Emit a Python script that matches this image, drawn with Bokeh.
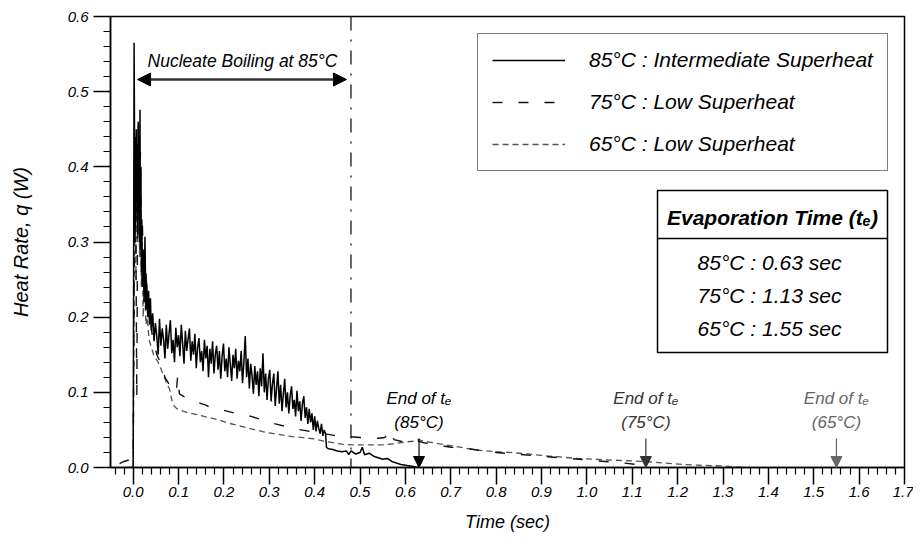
from bokeh.plotting import figure
from bokeh.models import (FixedTicker, PrintfTickFormatter, Legend, LegendItem, Span,
                          Arrow, NormalHead, Label, BoxAnnotation)
from bokeh.embed import file_html
from bokeh.resources import INLINE

# ---------------- data ----------------
t85 = [-0.010, 0.000, 0.002, 0.004, 0.005, 0.006, 0.007, 0.008, 0.009, 0.010, 0.011, 0.012,
       0.013, 0.014, 0.015, 0.016, 0.017, 0.018, 0.019, 0.020, 0.022, 0.024, 0.026, 0.028,
       0.030, 0.032, 0.034, 0.036, 0.038,
       0.040, 0.043, 0.046, 0.049, 0.052, 0.055, 0.058, 0.061, 0.064, 0.067,
       0.070, 0.073, 0.076, 0.079, 0.082, 0.085, 0.088, 0.091, 0.094, 0.097,
       0.100, 0.103, 0.106, 0.109, 0.112, 0.115, 0.118, 0.121, 0.124, 0.127,
       0.130, 0.133, 0.136, 0.139, 0.142, 0.145, 0.148, 0.151, 0.154, 0.157,
       0.160, 0.163, 0.166, 0.169, 0.172, 0.175, 0.178, 0.181, 0.184, 0.187,
       0.190, 0.193, 0.196, 0.199, 0.202, 0.205, 0.208, 0.211, 0.214, 0.217,
       0.220, 0.223, 0.226, 0.229, 0.232, 0.235, 0.238, 0.241, 0.244, 0.247,
       0.250, 0.253, 0.256, 0.259, 0.262, 0.265, 0.268, 0.271, 0.274, 0.277,
       0.280, 0.283, 0.286, 0.289, 0.292, 0.295, 0.298, 0.301, 0.304, 0.307,
       0.310, 0.313, 0.316, 0.319, 0.322, 0.325, 0.328, 0.331, 0.334, 0.337,
       0.340, 0.343, 0.346, 0.349, 0.352, 0.355, 0.358, 0.361, 0.364, 0.367,
       0.370, 0.373, 0.376, 0.379, 0.382, 0.385, 0.388, 0.391, 0.394, 0.397,
       0.400, 0.403, 0.406, 0.409, 0.412, 0.415, 0.418, 0.421,
       0.424, 0.426, 0.430, 0.440, 0.450, 0.460, 0.470, 0.475, 0.480, 0.490, 0.500, 0.505,
       0.510, 0.520, 0.530, 0.540, 0.550, 0.560, 0.570, 0.580, 0.590, 0.600, 0.610, 0.620,
       0.630]
q85 = [0.000, 0.000, 0.565, 0.300, 0.440, 0.330, 0.450, 0.360, 0.430, 0.310, 0.460, 0.340,
       0.440, 0.300, 0.476, 0.290, 0.400, 0.260, 0.330, 0.240, 0.290, 0.220, 0.307, 0.210,
       0.245, 0.200, 0.235, 0.190, 0.225,
       0.182, 0.205, 0.168, 0.192, 0.175, 0.150, 0.198, 0.162, 0.185, 0.170,
       0.145, 0.190, 0.158, 0.178, 0.196, 0.152, 0.170, 0.140, 0.186, 0.160,
       0.176, 0.148, 0.190, 0.165, 0.138, 0.182, 0.155, 0.171, 0.185, 0.142,
       0.168, 0.150, 0.178, 0.132, 0.160, 0.172, 0.140, 0.155, 0.128, 0.170,
       0.145, 0.162, 0.120, 0.158, 0.138, 0.168, 0.125, 0.150, 0.162, 0.130,
       0.155, 0.118, 0.148, 0.165, 0.128, 0.145, 0.120, 0.160, 0.138, 0.115,
       0.150, 0.132, 0.158, 0.118, 0.142, 0.128, 0.155, 0.112, 0.140, 0.175,
       0.120, 0.145, 0.105, 0.138, 0.122, 0.098, 0.135, 0.110, 0.128, 0.095,
       0.132, 0.108, 0.152, 0.100, 0.125, 0.090, 0.118, 0.130, 0.088, 0.112,
       0.125, 0.082, 0.105, 0.128, 0.085, 0.110, 0.075, 0.098, 0.118, 0.080,
       0.100, 0.072, 0.095, 0.108, 0.078, 0.090, 0.068, 0.102, 0.075, 0.088,
       0.062, 0.085, 0.095, 0.066, 0.080, 0.058, 0.078, 0.060, 0.072, 0.050,
       0.068, 0.048, 0.062, 0.052, 0.045, 0.058, 0.042, 0.050,
       0.045, 0.027, 0.025, 0.024, 0.022, 0.021, 0.022, 0.017, 0.022, 0.018, 0.020, 0.027,
       0.017, 0.019, 0.015, 0.013, 0.011, 0.012, 0.008, 0.006, 0.004, 0.003, 0.002, 0.001,
       0.000]

t75 = [-0.030, -0.020, -0.010, -0.004, 0.000, 0.002, 0.004, 0.006, 0.008, 0.010, 0.012,
       0.014, 0.016, 0.018, 0.020, 0.023, 0.026, 0.030, 0.034, 0.038, 0.042, 0.047, 0.052,
       0.056, 0.060, 0.065, 0.070, 0.075, 0.080, 0.085, 0.090, 0.095, 0.098, 0.102, 0.110,
       0.120, 0.130, 0.140, 0.150, 0.160, 0.170, 0.180, 0.190, 0.200, 0.220, 0.240, 0.260,
       0.280, 0.300, 0.320, 0.340, 0.360, 0.380, 0.400, 0.420, 0.440, 0.460, 0.480, 0.500,
       0.520, 0.540, 0.555, 0.565, 0.575, 0.590, 0.600, 0.620, 0.640, 0.660, 0.680, 0.700,
       0.720, 0.740, 0.760, 0.780, 0.800, 0.840, 0.880, 0.920, 0.960, 1.000, 1.040, 1.080,
       1.110, 1.130]
q75 = [0.005, 0.008, 0.010, 0.012, 0.010, 0.250, 0.420, 0.300, 0.093, 0.380, 0.467,
       0.330, 0.420, 0.280, 0.330, 0.260, 0.280, 0.240, 0.220, 0.200, 0.175, 0.165, 0.150,
       0.145, 0.140, 0.130, 0.120, 0.115, 0.110, 0.105, 0.103, 0.100, 0.122, 0.098, 0.095,
       0.092, 0.089, 0.087, 0.085, 0.083, 0.080, 0.078, 0.077, 0.076, 0.073, 0.071, 0.068,
       0.064, 0.060, 0.057, 0.054, 0.051, 0.049, 0.047, 0.045, 0.043, 0.042, 0.041, 0.040,
       0.040, 0.039, 0.040, 0.050, 0.037, 0.035, 0.034, 0.036, 0.033, 0.031, 0.029, 0.027,
       0.026, 0.025, 0.023, 0.022, 0.020, 0.018, 0.016, 0.014, 0.012, 0.010, 0.008, 0.006,
       0.004, 0.000]

t65 = [-0.020, 0.000, 0.002, 0.004, 0.006, 0.008, 0.010, 0.012, 0.014, 0.016, 0.018,
       0.020, 0.022, 0.025, 0.028, 0.031, 0.035, 0.040, 0.045, 0.050, 0.055, 0.060, 0.065,
       0.070, 0.075, 0.080, 0.085, 0.090, 0.095, 0.100, 0.110, 0.120, 0.135, 0.150, 0.170,
       0.190, 0.210, 0.230, 0.250, 0.270, 0.290, 0.310, 0.330, 0.350, 0.370, 0.400, 0.420,
       0.440, 0.460, 0.480, 0.500, 0.520, 0.550, 0.580, 0.600, 0.620, 0.630, 0.640, 0.660,
       0.690, 0.720, 0.760, 0.800, 0.830, 0.870, 0.900, 0.940, 0.980, 1.020, 1.050, 1.090,
       1.130, 1.170, 1.210, 1.250, 1.300, 1.350]
q65 = [0.000, 0.000, 0.200, 0.380, 0.250, 0.420, 0.300, 0.460, 0.280, 0.400, 0.240,
       0.300, 0.200, 0.250, 0.190, 0.200, 0.170, 0.160, 0.150, 0.145, 0.140, 0.133, 0.125,
       0.118, 0.110, 0.105, 0.090, 0.082, 0.079, 0.077, 0.075, 0.073, 0.071, 0.069, 0.066,
       0.063, 0.059, 0.056, 0.053, 0.050, 0.047, 0.045, 0.043, 0.041, 0.040, 0.038, 0.035,
       0.033, 0.031, 0.030, 0.030, 0.030, 0.030, 0.032, 0.034, 0.035, 0.037, 0.035, 0.033,
       0.030, 0.027, 0.023, 0.021, 0.020, 0.018, 0.016, 0.014, 0.012, 0.011, 0.010, 0.009,
       0.008, 0.006, 0.004, 0.003, 0.002, 0.000]

series_labels = ["85°C : Intermediate Superheat", "75°C : Low Superheat", "65°C : Low Superheat"]
evap_temps = ["85°C", "75°C", "65°C"]
evap_times = [0.63, 1.13, 1.55]
nucleate_end = 0.48

x_ticks = [0.0, 0.1, 0.2, 0.3, 0.4, 0.5, 0.6, 0.7, 0.8, 0.9, 1.0, 1.1, 1.2, 1.3, 1.4, 1.5, 1.6, 1.7]
x_minor = [-0.04, -0.02] + [round(i * 0.02, 2) for i in range(1, 86) if i % 5 != 0]
y_ticks = [0.0, 0.1, 0.2, 0.3, 0.4, 0.5, 0.6]
y_minor = [round(i * 0.02, 2) for i in range(1, 30) if i % 5 != 0]

# ---------------- layout helpers (picture px -> data) ----------------
FL, FR, FT, FB = 110, 904, 16, 467
X0, X1, Y0, Y1 = -0.05, 1.7, 0.0, 0.6
W, H = 913, 543
def dx(px):
    return X0 + (px - FL) / (FR - FL) * (X1 - X0)
def dy(py):
    return Y0 + (FB - py) / (FB - FT) * (Y1 - Y0)

FONT = "Liberation Sans"
colors = ["#000000", "#111111", "#555555"]

p = figure(width=W, height=H, x_range=(X0, X1), y_range=(Y0, Y1),
           output_backend="svg", toolbar_location=None,
           min_border_left=FL, min_border_right=W - FR, min_border_top=FT,
           min_border_bottom=H - FB)
p.grid.visible = False
p.outline_line_color = "black"
p.outline_line_width = 1.5
p.background_fill_color = "white"
p.border_fill_color = "white"

for ax in (p.xaxis[0], p.yaxis[0]):
    ax.axis_line_width = 1.5
    ax.major_tick_line_width = 1.5
    ax.minor_tick_line_width = 1.2
    ax.major_tick_in = 0
    ax.major_tick_out = 17
    ax.minor_tick_in = 0
    ax.minor_tick_out = 7
    ax.major_label_text_font = FONT
    ax.major_label_text_font_style = "italic"
    ax.major_label_text_font_size = "15px"
    ax.major_label_text_color = "black"
    ax.axis_label_text_font = FONT
    ax.axis_label_text_font_style = "italic"
    ax.axis_label_text_color = "black"
    ax.formatter = PrintfTickFormatter(format="%.1f")

p.xaxis[0].ticker = FixedTicker(ticks=x_ticks, minor_ticks=x_minor)
p.yaxis[0].ticker = FixedTicker(ticks=y_ticks, minor_ticks=y_minor)
p.xaxis[0].axis_label = "Time (sec)"
p.yaxis[0].axis_label = "Heat Rate, q (W)"
p.xaxis[0].axis_label_text_font_size = "18px"
p.yaxis[0].axis_label_text_font_size = "20px"
p.xaxis[0].major_label_standoff = 2
p.xaxis[0].axis_label_standoff = 12
p.yaxis[0].major_label_standoff = 5
p.yaxis[0].axis_label_standoff = 33

r65 = p.line(t65, q65, line_color=colors[2], line_width=1.3, line_dash="6 4")
r75 = p.line(t75, q75, line_color=colors[1], line_width=1.4, line_dash="10 16")
r85 = p.line(t85, q85, line_color=colors[0], line_width=1.5)

legend = Legend(items=[LegendItem(label=series_labels[0], renderers=[r85]),
                       LegendItem(label=series_labels[1], renderers=[r75]),
                       LegendItem(label=series_labels[2], renderers=[r65])],
                location=(367, 296), orientation="vertical",
                label_text_font=FONT, label_text_font_style="italic",
                label_text_font_size="21px", label_text_color="black",
                glyph_width=73, glyph_height=20, label_height=21, spacing=18,
                padding=14, margin=0, label_standoff=24,
                border_line_color="black", border_line_width=1.5,
                background_fill_color="white", background_fill_alpha=1.0)
p.add_layout(legend, "center")

# nucleate boiling region
p.add_layout(Span(location=nucleate_end, dimension="height", line_color="black",
                  line_width=1.2, line_dash="14 9 2 9"))
p.add_layout(Arrow(start=NormalHead(size=13, fill_color="black", line_color="black"),
                   end=NormalHead(size=13, fill_color="black", line_color="black"),
                   x_start=dx(137), y_start=dy(79), x_end=nucleate_end - 0.01, y_end=dy(79),
                   line_color="#333333", line_width=2.5))
p.add_layout(Label(x=dx(242), y=dy(60), text="Nucleate Boiling at 85°C",
                   text_align="center", text_baseline="middle",
                   text_font=FONT, text_font_style="italic", text_font_size="17.5px",
                   text_color="black"))

# end of evaporation markers
ann_colors = ["#000000", "#333333", "#666666"]
for temp, te, c in zip(evap_temps, evap_times, ann_colors):
    p.add_layout(Arrow(end=NormalHead(size=11, fill_color=c, line_color=c),
                       x_start=te, y_start=dy(438), x_end=te, y_end=0.0,
                       line_color=c, line_width=1.2))
    p.add_layout(Label(x=te, y=dy(398), text="End of tₑ", text_align="center",
                       text_baseline="middle", text_font=FONT, text_font_style="italic",
                       text_font_size="17px", text_color=c))
    p.add_layout(Label(x=te, y=dy(422), text="(" + temp + ")", text_align="center",
                       text_baseline="middle", text_font=FONT, text_font_style="italic",
                       text_font_size="17px", text_color=c))

# evaporation time box
p.add_layout(BoxAnnotation(left=dx(657), right=dx(887), top=dy(190), bottom=dy(352),
                           fill_color="white", fill_alpha=1.0,
                           line_color="black", line_alpha=1.0, line_width=1.5))
p.segment(x0=[dx(657)], y0=[dy(238)], x1=[dx(887)], y1=[dy(238)],
          line_color="black", line_width=1.5, level="overlay")
p.add_layout(Label(x=dx(772), y=dy(217), text="Evaporation Time (tₑ)",
                   text_align="center", text_baseline="middle",
                   text_font=FONT, text_font_style="bold italic", text_font_size="21px",
                   text_color="black"))
row_py = [262, 295, 328]
for temp, te, py in zip(evap_temps, evap_times, row_py):
    p.add_layout(Label(x=dx(769), y=dy(py), text=f"{temp} : {te:.2f} sec",
                       text_align="center", text_baseline="middle",
                       text_font=FONT, text_font_style="italic", text_font_size="21px",
                       text_color="black"))

open("out.html", "w").write(file_html(p, INLINE))
